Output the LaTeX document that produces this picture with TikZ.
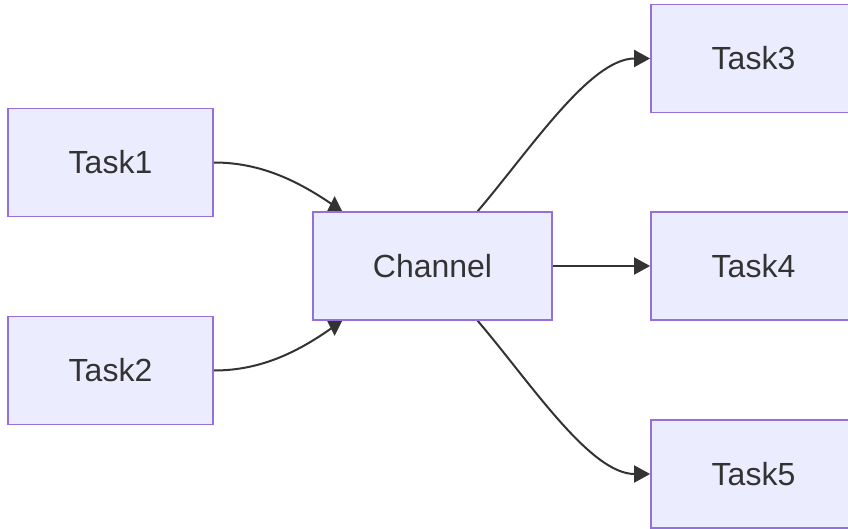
\documentclass[tikz,border=0pt]{standalone}
\usepackage{fontspec}
\setmainfont{Liberation Sans}
\usetikzlibrary{arrows.meta,calc}
\pgfdeclarelayer{background}
\pgfsetlayers{background,main}
\definecolor{nodefill}{HTML}{ECECFF}
\definecolor{nodeline}{HTML}{9370DB}
\definecolor{ink}{HTML}{333333}
\tikzset{
  box/.style={draw=nodeline, fill=nodefill, line width=1.8pt, text=ink,
    font=\fontsize{32}{38}\selectfont, inner sep=0pt, minimum height=108pt},
  taskbox/.style={box, minimum width=205pt},
  conn/.style={draw=ink, line width=2pt},
  arr/.style={conn, -{Triangle[length=16pt,width=17pt]}},
  headfill/.style={fill=ink}
}
\begin{document}
\begin{tikzpicture}[x=1pt,y=-1pt]
\useasboundingbox (0,0) rectangle (848,529);
\node[taskbox] (t1) at (110.5,162.5) {Task1};
\node[taskbox] (t2) at (110.5,370.5) {Task2};
\node[box, minimum width=239pt] (ch) at (432.5,266) {Channel};
\node[taskbox] (t3) at (753.5,58.5) {Task3};
\node[taskbox] (t4) at (753.5,266) {Task4};
\node[taskbox] (t5) at (753.5,474) {Task5};
\begin{pgfonlayer}{background}
  % Task1 -> Channel
  \draw[conn] (t1.east) .. controls (262,162.5) and (300,182) .. (336,207);
  \fill[headfill] ($(ch.north west)+(22.5,-15)$) -- ($(ch.north west)+(14,2)$) -- ($(ch.north west)+(31,2)$) -- cycle;
  % Task2 -> Channel
  \draw[conn] (t2.east) .. controls (262,370.5) and (300,351) .. (336,325);
  \fill[headfill] ($(ch.south west)+(22.5,15)$) -- ($(ch.south west)+(14,-2)$) -- ($(ch.south west)+(31,-2)$) -- cycle;
  % Channel -> Task3/4/5
  \draw[arr] (477,212) .. controls (530,150) and (590,58.5) .. (t3.west);
  \draw[arr] (ch.east) -- (t4.west);
  \draw[arr] (477,320) .. controls (530,382) and (590,474) .. (t5.west);
\end{pgfonlayer}
\end{tikzpicture}
\end{document}
